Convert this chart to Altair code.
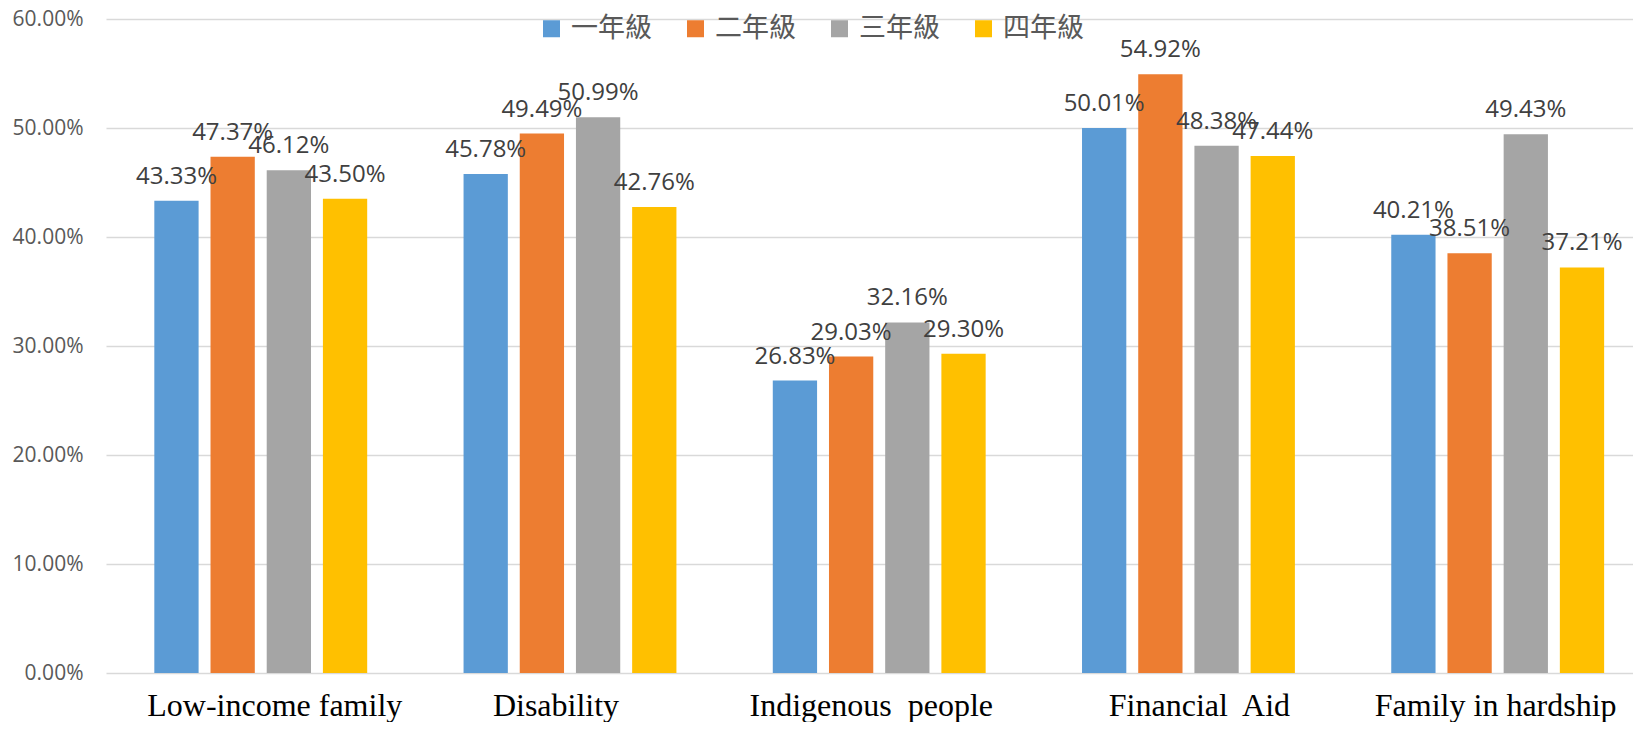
import altair as alt
import pandas as pd

categories = ["Low-income family", "Disability", "Indigenous\u00a0 people", "Financial\u00a0 Aid", "Family in hardship"]
grades = ["一年級", "二年級", "三年級", "四年級"]
grade1 = [43.33, 45.78, 26.83, 50.01, 40.21]
grade2 = [47.37, 49.49, 29.03, 54.92, 38.51]
grade3 = [46.12, 50.99, 32.16, 48.38, 49.43]
grade4 = [43.50, 42.76, 29.30, 47.44, 37.21]
colors = ["#5B9BD5", "#ED7D31", "#A5A5A5", "#FFC000"]
y_ticks = [0.0, 0.1, 0.2, 0.3, 0.4, 0.5, 0.6]
# small horizontal nudges of the category labels (style only)
label_nudge = [14, -14, -8, 11, -2]

rows = []
for g, vals in zip(grades, [grade1, grade2, grade3, grade4]):
    for c, v in zip(categories, vals):
        rows.append({"category": c, "grade": g, "value": v / 100.0})
df = pd.DataFrame(rows)

nudge_expr = "0"
for c, n in reversed(list(zip(categories, label_nudge))):
    nudge_expr = f"(datum.value === '{c}' ? {n} : {nudge_expr})"

x = alt.X(
    "category:N",
    sort=categories,
    scale=alt.Scale(paddingInner=0.3116, paddingOuter=0.1248, align=0.626),
    axis=alt.Axis(
        title=None, labelAngle=0, labelFont="Liberation Serif", labelFontSize=32,
        labelColor="#000000", labelBaseline="alphabetic", labelPadding=42,
        labelOffset=alt.ExprRef(nudge_expr),
        ticks=False, tickSize=0, domain=False, grid=False, labelLimit=500,
    ),
)
xo = alt.XOffset("grade:N", sort=grades, scale=alt.Scale(paddingInner=0.212, paddingOuter=0))
y = alt.Y(
    "value:Q",
    scale=alt.Scale(domain=[0, 0.6], nice=False, zero=True),
    axis=alt.Axis(
        title=None, values=y_ticks, format=".2%", labelFont="Open Sans",
        labelFontSize=21, labelColor="#595959", labelPadding=23,
        ticks=False, tickSize=0, domain=False, grid=True,
        gridColor="#D9D9D9", gridWidth=1.3,
    ),
)
color = alt.Color(
    "grade:N",
    sort=grades,
    scale=alt.Scale(domain=grades, range=colors),
    legend=alt.Legend(
        orient="none", legendX=432, legendY=-4, direction="horizontal",
        title=None, symbolType="square", symbolSize=289, symbolStrokeWidth=0,
        labelFont="Noto Sans CJK TC", labelFontSize=27, labelColor="#595959",
        labelOffset=6, columnPadding=30, padding=0,
    ),
)

bars = alt.Chart(df).mark_bar().encode(x=x, xOffset=xo, y=y, color=color)
labels = alt.Chart(df).mark_text(
    dy=-17, baseline="alphabetic", align="center", font="Open Sans",
    fontSize=24, color="#404040",
).encode(x=x, xOffset=xo, y=y, text=alt.Text("value:Q", format=".2%"))

chart = (
    alt.layer(bars, labels)
    .properties(
        width=1527, height=654,
        autosize=alt.AutoSizeParams(type="none"),
        padding={"left": 98, "top": 11, "right": 0, "bottom": 49},
        background="#FFFFFF",
    )
    .configure_view(stroke=None)
)

chart.save("out.html", embed_options={"renderer": "svg", "actions": False})
